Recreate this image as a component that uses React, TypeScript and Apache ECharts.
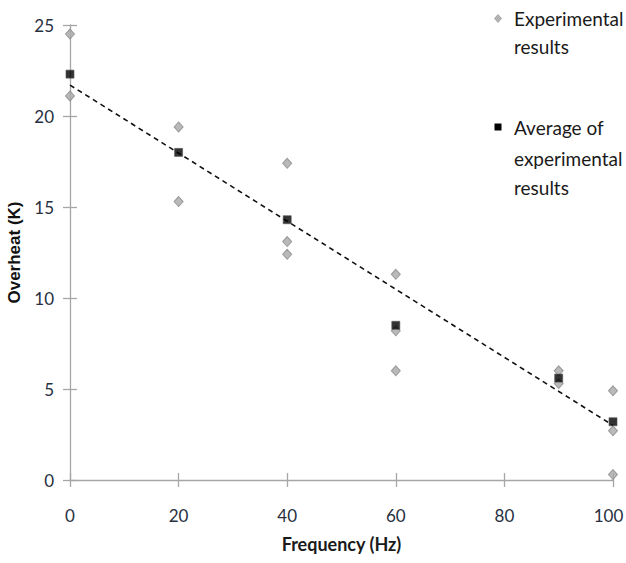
import React, { useEffect, useRef } from "react";
import * as echarts from "echarts";

const expX = [0, 0, 20, 20, 40, 40, 40, 60, 60, 60, 90, 90, 100, 100, 100];
const expY = [24.5, 21.1, 19.4, 15.3, 17.4, 13.1, 12.4, 11.3, 8.2, 6.0, 6.0, 5.3, 4.9, 2.7, 0.3];
const avgX = [0, 20, 40, 60, 90, 100];
const avgY = [22.3, 18.0, 14.3, 8.5, 5.6, 3.2];
const trendX = [0, 100];
const trendY = [21.7, 3.0];
const legendExp = ["Experimental", "results"];
const legendAvg = ["Average of", "experimental", "results"];

const FONT = 'Lato, "Open Sans", sans-serif';

export default function App() {
  const ref = useRef<HTMLDivElement>(null);
  useEffect(() => {
    if (!ref.current) return;
    document.body.style.margin = "0";
    document.body.style.overflow = "hidden";
    document.documentElement.style.overflow = "hidden";
    const chart = echarts.init(ref.current, null, { renderer: "svg", width: 626, height: 563 });
    const axisColor = "#a6a6a6";
    const labelColor = "#283040";
    const baseX = {
      type: "value",
      gridIndex: 0,
      min: 0,
      max: 100,
      interval: 20,
      splitLine: { show: false },
    };
    const baseY = {
      type: "value",
      gridIndex: 0,
      min: 0,
      max: 25,
      interval: 5,
      splitLine: { show: false },
    };
    const textLines = (lines: string[], x: number, ys: number[]) =>
      lines.map((t, i) => ({
        type: "text",
        x,
        y: ys[i],
        style: { text: t, font: `19px ${FONT}`, fill: "#1a1a1a", verticalAlign: "middle", align: "left" },
      }));
    chart.setOption({
      animation: false,
      backgroundColor: "#fff",
      grid: {
        left: 70,
        right: 13,
        top: 25,
        bottom: 83,
        containLabel: false,
        outerBoundsMode: "none",
      },
      xAxis: [
        {
          ...baseX,
          name: "Frequency (Hz)",
          nameLocation: "middle",
          nameGap: 55,
          nameTextStyle: { fontFamily: FONT, fontWeight: "bold", fontSize: 18, color: "#1a1a1a" },
          axisLine: { show: true, onZero: false, lineStyle: { color: axisColor, width: 1.3 } },
          axisTick: { show: true, inside: false, length: 7, lineStyle: { color: axisColor, width: 1.3 } },
          axisLabel: {
            fontFamily: FONT,
            fontSize: 17,
            color: labelColor,
            margin: 27,
            formatter: (v: number) => (v === 100 ? `{m|${v}}` : `${v}`),
            rich: {
              m: { fontFamily: FONT, fontSize: 17, color: labelColor, padding: [0, 9, 0, 0] },
            },
          },
        },
        {
          ...baseX,
          position: "bottom",
          axisLine: { show: false },
          axisTick: { show: true, inside: true, length: 7, lineStyle: { color: axisColor, width: 1.3 } },
          axisLabel: { show: false },
        },
      ],
      yAxis: [
        {
          ...baseY,
          name: "Overheat (K)",
          nameLocation: "middle",
          nameGap: 46,
          nameTextStyle: {
            fontFamily: '"Liberation Sans", Arial, sans-serif',
            fontWeight: "bold",
            fontSize: 17,
            color: "#111",
          },
          axisLine: { show: true, onZero: false, lineStyle: { color: axisColor, width: 1.3 } },
          axisTick: { show: true, inside: false, length: 7, lineStyle: { color: axisColor, width: 1.3 } },
          axisLabel: { fontFamily: FONT, fontSize: 17, color: labelColor, margin: 16 },
        },
        {
          ...baseY,
          position: "left",
          axisLine: { show: false },
          axisTick: { show: true, inside: true, length: 7, lineStyle: { color: axisColor, width: 1.3 } },
          axisLabel: { show: false },
        },
      ],
      series: [
        {
          name: "Trend",
          type: "line",
          data: trendX.map((x, i) => [x, trendY[i]]),
          showSymbol: false,
          symbol: "none",
          lineStyle: { color: "#111", width: 1.6, type: [5, 4] },
          z: 2,
        },
        {
          name: "Experimental results",
          type: "scatter",
          data: expX.map((x, i) => [x, expY[i]]),
          symbol: "diamond",
          symbolSize: [9, 10],
          itemStyle: { color: "#a8a8a8", borderColor: "#8a8a8a", borderWidth: 1 },
          z: 3,
        },
        {
          name: "Average of experimental results",
          type: "scatter",
          data: avgX.map((x, i) => [x, avgY[i]]),
          symbol: "rect",
          symbolSize: 8,
          itemStyle: { color: "#000", borderColor: "#555", borderWidth: 0.8 },
          z: 4,
        },
      ],
      graphic: [
        {
          type: "polygon",
          shape: { points: [[498, 14.5], [501.5, 18.5], [498, 22.5], [494.5, 18.5]] },
          style: { fill: "#b3b3b3", stroke: "#999", lineWidth: 0.8 },
        },
        ...textLines(legendExp, 514, [18, 46]),
        {
          type: "rect",
          shape: { x: 494.5, y: 123.5, width: 7, height: 7 },
          style: { fill: "#000" },
        },
        ...textLines(legendAvg, 514, [127, 158, 187]),
      ],
    });
    return () => chart.dispose();
  }, []);
  return (
    <div
      ref={ref}
      style={{ position: "absolute", left: 0, top: 0, width: 626, height: 563 }}
    />
  );
}
